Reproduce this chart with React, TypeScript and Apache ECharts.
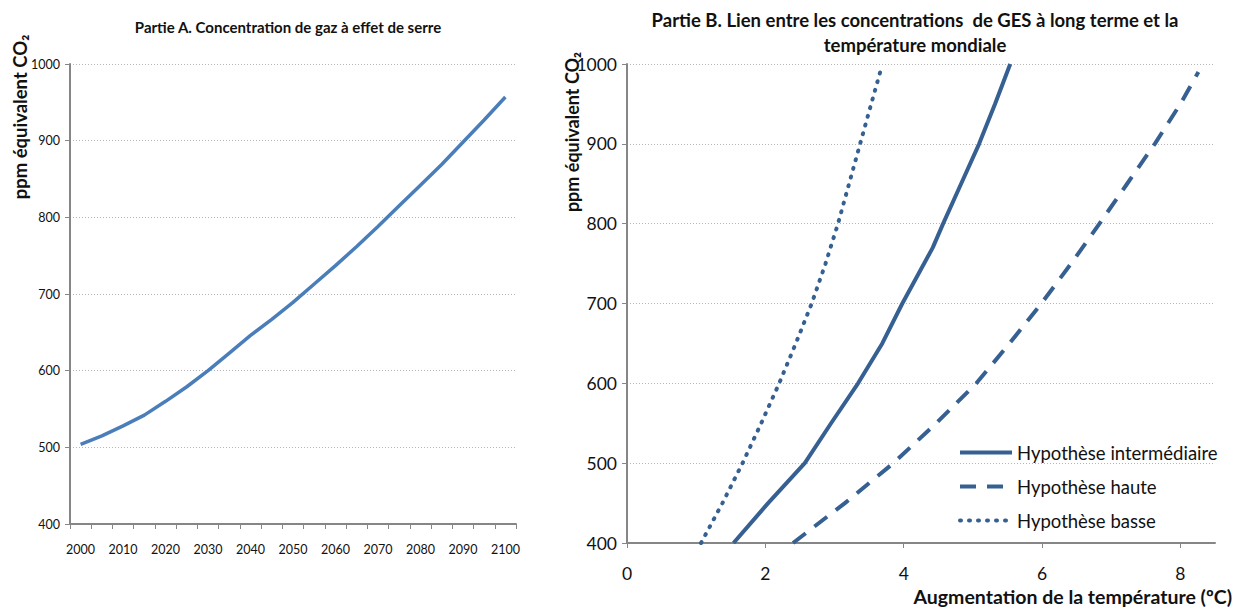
import { useEffect, useRef } from "react";
import * as echarts from "echarts";

// Partie A
const years = ["2000", "2005", "2010", "2015", "2020", "2025", "2030", "2035", "2040", "2045", "2050",
  "2055", "2060", "2065", "2070", "2075", "2080", "2085", "2090", "2095", "2100"];
const concentration = [504, 515, 528, 542, 560, 579, 600, 623, 646, 667, 689,
  713, 737, 762, 788, 815, 842, 869, 898, 927, 957];

// Partie B
const midName = "Hypothèse intermédiaire";
const highName = "Hypothèse haute";
const lowName = "Hypothèse basse";
const midPpm = [400, 450, 500, 550, 600, 650, 700, 770, 800, 850, 900, 950, 1000];
const midTemp = [1.54, 2.04, 2.57, 2.95, 3.34, 3.69, 3.98, 4.42, 4.57, 4.83, 5.09, 5.32, 5.54];
const highPpm = [400, 450, 500, 550, 600, 650, 700, 750, 800, 850, 900, 950, 990];
const highTemp = [2.4, 3.15, 3.85, 4.47, 5.05, 5.53, 5.99, 6.42, 6.83, 7.23, 7.63, 8.0, 8.26];
const lowPpm = [400, 450, 500, 550, 600, 650, 700, 750, 800, 850, 900, 950, 990];
const lowTemp = [1.07, 1.38, 1.67, 1.94, 2.2, 2.44, 2.67, 2.87, 3.05, 3.21, 3.37, 3.53, 3.66];
const tempTicks = [0, 2, 4, 6, 8];

const FONT = "Lato";
const AXIS = "#868686";
const GRID = "#b5b5b5";
const DARK = "#376092";

export default function App() {
  const ref = useRef<HTMLDivElement>(null);
  useEffect(() => {
    const chart = echarts.init(ref.current!, null, { renderer: "svg" });
    const pair = (t: number[], p: number[]) => t.map((v, i) => [v, p[i]]);
    const plain = (v: number) => String(v);
    const axisLine = { show: true, lineStyle: { color: AXIS, width: 2 } };
    const tick = { show: true, length: 5, lineStyle: { color: AXIS, width: 1 } };
    const split = { show: true, lineStyle: { color: GRID, width: 1, type: [1, 2] } };
    const bold = (text: string, x: number, y: number, size: number, extra: any = {}) => ({
      type: "text", x, y, ...extra,
      style: { text, fontFamily: FONT, fontSize: size, fontWeight: "bold", fill: "#111", align: extra.align || "center", verticalAlign: "middle" },
    });
    chart.setOption({
      animation: false,
      textStyle: { fontFamily: FONT },
      grid: [
        { left: 70, top: 64, width: 446, height: 460 },
        { left: 627, top: 64, width: 588, height: 479 },
      ],
      xAxis: [
        {
          type: "category", gridIndex: 0, data: years, boundaryGap: true,
          axisLine, axisTick: { ...tick, interval: 0 },
          axisLabel: { interval: 1, fontSize: 12.5, color: "#111", margin: 19, fontFamily: FONT },
          splitLine: { show: false },
        },
        {
          type: "value", gridIndex: 1, min: 0, max: 8.5, interval: 2,
          axisLine, axisTick: { ...tick, customValues: tempTicks },
          axisLabel: { customValues: tempTicks, fontSize: 17.5, color: "#111", margin: 21, fontFamily: FONT, formatter: plain },
          splitLine: { show: false },
        },
      ],
      yAxis: [
        {
          type: "value", gridIndex: 0, min: 400, max: 1000, interval: 100,
          axisLine, axisTick: tick,
          axisLabel: { fontSize: 12.5, color: "#111", margin: 10, fontFamily: FONT, formatter: plain },
          splitLine: split,
        },
        {
          type: "value", gridIndex: 1, min: 400, max: 1000, interval: 100,
          axisLine, axisTick: tick,
          axisLabel: { fontSize: 17.5, color: "#111", margin: 10, fontFamily: FONT, formatter: plain },
          splitLine: split,
        },
      ],
      legend: {
        data: [midName, highName, lowName],
        orient: "vertical", left: 953, top: 438,
        itemWidth: 52, itemHeight: 16, itemGap: 15,
        itemStyle: { opacity: 0 },
        lineStyle: { width: 4 },
        textStyle: { fontSize: 18.5, color: "#111", fontFamily: FONT },
      },
      series: [
        {
          type: "line", xAxisIndex: 0, yAxisIndex: 0, data: concentration, symbol: "none",
          lineStyle: { color: "#4A7EBB", width: 3.5 }, itemStyle: { color: "#4A7EBB" },
        },
        {
          name: midName, type: "line", xAxisIndex: 1, yAxisIndex: 1, data: pair(midTemp, midPpm), symbol: "none",
          lineStyle: { color: DARK, width: 4, type: "solid" }, itemStyle: { color: DARK },
        },
        {
          name: highName, type: "line", xAxisIndex: 1, yAxisIndex: 1, data: pair(highTemp, highPpm), symbol: "none",
          lineStyle: { color: DARK, width: 4, type: [16, 11] }, itemStyle: { color: DARK },
        },
        {
          name: lowName, type: "line", xAxisIndex: 1, yAxisIndex: 1, data: pair(lowTemp, lowPpm), symbol: "none",
          lineStyle: { color: DARK, width: 4, type: [1, 8], cap: "round" }, itemStyle: { color: DARK },
        },
      ],
      graphic: [
        bold("Partie A. Concentration de gaz à effet de serre", 288, 27, 15),
        bold("Partie B. Lien entre les concentrations  de GES à long terme et la", 915, 20, 18.5),
        bold("température mondiale", 915, 45, 18.5),
        bold("ppm équivalent CO₂", 20, 117, 18.5, { rotation: Math.PI / 2 }),
        bold("ppm équivalent CO₂", 572, 132, 18, { rotation: Math.PI / 2 }),
        bold("Augmentation de la température (ºC)", 1232, 596, 19.5, { align: "right" }),
      ],
    });
    return () => chart.dispose();
  }, []);
  return (
    <div
      ref={ref}
      style={{ position: "absolute", left: 0, top: 0, width: 1235, height: 609, background: "#fff" }}
    />
  );
}
